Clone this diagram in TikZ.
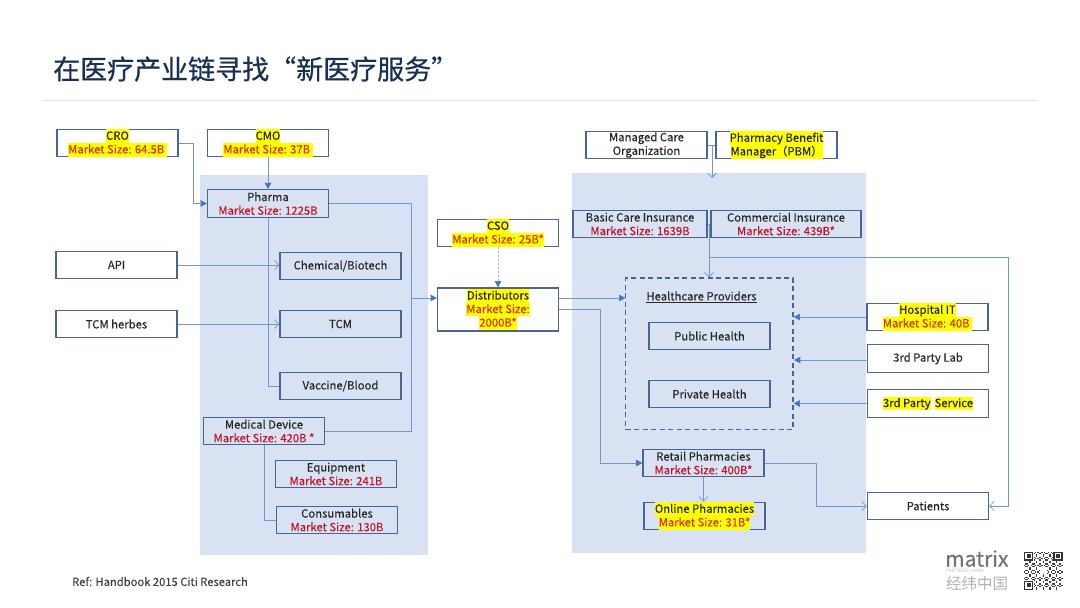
\documentclass[tikz,border=0pt]{standalone}
\usepackage{fontspec}
\setmainfont{Noto Sans CJK SC}
\newfontfamily\boxfont[FakeBold=0.15]{Noto Sans CJK SC}
\newfontfamily\titlefont[FakeBold=0.6]{Noto Sans CJK SC}
\usetikzlibrary{arrows.meta, calc, positioning}
\definecolor{bandblue}{RGB}{217,226,243}
\definecolor{boxblue}{RGB}{76,100,146}
\definecolor{flowblue}{RGB}{116,150,208}
\definecolor{tipblue}{RGB}{68,114,196}
\definecolor{titlenavy}{RGB}{24,48,84}
\definecolor{sizered}{RGB}{192,20,40}
\definecolor{markyellow}{RGB}{255,255,0}
\definecolor{markred}{RGB}{214,50,0}
\definecolor{inkgrey}{RGB}{38,38,38}
\setlength{\fboxsep}{0pt}
\newcommand{\hlt}[1]{\colorbox{markyellow}{\rule[-3.2pt]{0pt}{13.6pt}#1}}
\newcommand{\msize}[1]{\textcolor{sizered}{Market Size: #1}}
\newcommand{\hmark}[1]{\hlt{\textcolor{markred}{#1}}}
\tikzset{
    plainbox/.style={draw=boxblue, line width=1.1pt, minimum width=121pt, minimum height=27.5pt,
        inner sep=0pt, align=center, text=inkgrey, font=\boxfont\fontsize{11.3}{13.6}\selectfont},
    whitebox/.style={plainbox, fill=white},
    flow/.style={draw=flowblue, line width=0.8pt},
    solidtip/.style={flow, -{Stealth[length=6.5pt, width=6.5pt, inset=0.5pt, color=tipblue]}},
    opentip/.style={flow, -{Straight Barb[length=4.5pt, width=9pt]}},
}
\begin{document}
\begin{tikzpicture}[x=1pt, y=-1pt]
    \useasboundingbox (0,0) rectangle (1080,608);

    % Title
    \node[anchor=west, inner sep=0pt, text=titlenavy, font=\titlefont\fontsize{27}{30}\selectfont] (title) at (53,69) {在医疗产业链寻找“新医疗服务”};
    \coordinate (ruleleft) at (44,100);
    \coordinate (ruleright) at (1036,100);
    \draw[black!12, line width=1pt] (ruleleft) -- (ruleright);

    % Bands
    \fill[bandblue] (200,175) rectangle (427.5,555);
    \fill[bandblue] (572,173) rectangle (866,553);

    % Left side
    \node[whitebox] (cro) at (117.5,143) {\hlt{CRO}\\\hmark{Market Size: 64.5B }};
    \node[whitebox] (cmo) at (268,143) {\hlt{CMO}\\\hmark{Market Size: 37B }};
    \node[plainbox] (pharma) at (268,203.5) {Pharma\\\msize{1225B}};
    \node[whitebox] (api) at (116.5,265) {API};
    \node[whitebox] (herbes) at (116.5,324) {TCM herbes};
    \node[plainbox] (chemical) at (340.5,266) {Chemical/Biotech};
    \node[plainbox] (tcm) at (340.5,324) {TCM};
    \node[plainbox] (vaccine) at (340.5,386) {Vaccine/Blood};
    \node[plainbox] (device) at (264,431) {Medical Device\\\msize{420B *}};
    \node[plainbox] (equipment) at (336,474) {Equipment\\\msize{241B}};
    \node[plainbox] (consumables) at (337,520) {Consumables\\\msize{130B}};

    % Middle
    \node[whitebox] (cso) at (498,233) {\hlt{CSO}\\\hmark{Market Size: 25B*}};
    \node[whitebox, minimum height=43pt] (distributors) at (498,309.5) {\hlt{Distributors}\\\hmark{Market Size:}\\\hmark{2000B*}};

    % Right side
    \node[whitebox] (managed) at (646.5,145) {Managed Care\\Organization};
    \node[whitebox] (pbm) at (776.5,145) {\hlt{Pharmacy Benefit}\\\hlt{Manager（PBM）}};
    \node[plainbox, minimum width=134pt] (basic) at (640,224) {Basic Care Insurance\\\msize{1639B}};
    \node[plainbox, minimum width=150pt] (commercial) at (786,224) {Commercial Insurance\\\msize{439B*}};
    \node[draw=boxblue, line width=1.1pt, dash pattern=on 5pt off 3.5pt, minimum width=167.5pt, minimum height=151.5pt, inner sep=0pt] (providers) at (709.25,353.75) {};
    \node[text=inkgrey, inner sep=0pt, font=\boxfont\fontsize{11.3}{13.6}\selectfont] (providertitle) at (701.5,297) {\underline{Healthcare Providers}};
    \node[plainbox] (public) at (709.5,336) {Public Health};
    \node[plainbox] (private) at (709.5,394) {Private Health};
    \node[plainbox] (retail) at (703.5,463) {Retail Pharmacies\\\msize{400B*}};
    \node[plainbox] (online) at (704.5,516) {\hlt{Online Pharmacies}\\\hmark{Market Size: 31B*}};
    \node[whitebox] (hospital) at (927.5,317) {\hlt{Hospital IT}\\\hmark{Market Size: 40B }};
    \node[whitebox] (lab) at (928,358.5) {3rd Party Lab};
    \node[whitebox] (service) at (928,403.5) {\hlt{3rd Party}\hspace{4pt}\hlt{Service}};
    \node[whitebox] (patients) at (928,506) {Patients};

    % Free ends of the connectors
    \coordinate (pharmaturn) at (411,203.5);
    \coordinate (deviceturn) at (411,431);
    \coordinate (merge) at (411,298);
    \coordinate (providerin) at (625.5,298);
    \coordinate (retailturn) at (600,309);
    \coordinate (payerjoin) at (712,145);
    \coordinate (payerend) at (712,178);
    \coordinate (insurejoin) at (709,224);
    \coordinate (insurebranch) at (709,257);
    \coordinate (patientturn) at (1008,257);
    \coordinate (labstart) at (867.5,360);
    \coordinate (labend) at (794,360);

    % Connectors
    \draw[solidtip] (cro.east) -- ++(15,0) |- (pharma.west);
    \draw[solidtip] (cmo.south) -- (pharma.north);
    \draw[flow] (pharma.south) |- (vaccine.west);
    \draw[opentip] (api.east) -- (api.east -| chemical.west);
    \draw[opentip] (herbes.east) -- (tcm.west);
    \draw[flow] (pharma.east) -- (pharmaturn) -- (deviceturn) -- (device.east);
    \draw[solidtip] (merge) -- (merge -| distributors.west);
    \draw[flow] (device.south) |- (consumables.west);
    \draw[solidtip, dash pattern=on 2pt off 2pt, draw=flowblue!75] (cso.south) -- (distributors.north);
    \draw[solidtip] (merge -| distributors.east) -- (providerin);
    \draw[solidtip] (retailturn -| distributors.east) -- (retailturn) |- (retail.west);
    \draw[flow] (managed.east) -- (pbm.west);
    \draw[opentip] (payerjoin) -- (payerend);
    \draw[flow] (basic.east) -- (commercial.west);
    \draw[opentip] (insurejoin) -- (insurejoin |- providers.north);
    \draw[opentip] (insurebranch) -- (patientturn) |- (patients.east);
    \draw[solidtip] (hospital.west) -- (hospital.west -| providers.east);
    \draw[solidtip] (labstart) -- (labend);
    \draw[solidtip] (service.west) -- (service.west -| providers.east);
    \draw[opentip] (retail.east) -- ++(52,0) |- (patients.west);
    \draw[opentip] (retail.south) -- (retail.south |- online.north);

    % Footer
    \node[anchor=west, inner sep=0pt, text=black!75, font=\boxfont\fontsize{11.2}{13}\selectfont] (reference) at (72,581.5) {Ref: Handbook 2015 Citi Research};
    \node[anchor=west, inner sep=0pt, text=black!55, font=\titlefont\fontsize{21}{24}\selectfont] (matrix) at (945,558.5) {matrix};
    \node[anchor=west, inner sep=0pt, text=black!25, font=\fontsize{4.6}{5}\selectfont] (partners) at (946,571) {PARTNERS CHINA};
    \node[anchor=west, inner sep=0pt, text=black!30, font=\fontsize{15.5}{17}\selectfont] (jingwei) at (946,584) {经纬中国};

    % QR code
    \begin{scope}[shift={(1024,551.5)}, x=1.33pt, y=-1.33pt]
        \foreach \i in {0,...,28} {
            \foreach \j in {0,...,28} {
                \pgfmathtruncatemacro{\cell}{mod(3*\i*\i+7*\j*\j+5*\i*\j+\i,5)}
                \ifnum\cell<2 \fill[black!75] (\i,\j) rectangle ++(1,1); \fi
            }
        }
        \fill[white] (12,12) rectangle (17,17);
        \foreach \a/\b in {0/0, 22/0, 0/22} {
            \fill[white] (\a-0.5,\b-0.5) rectangle ++(8,8);
            \fill[black!80] (\a,\b) rectangle ++(7,7);
            \fill[white] (\a+1,\b+1) rectangle ++(5,5);
            \fill[black!80] (\a+2,\b+2) rectangle ++(3,3);
        }
    \end{scope}
\end{tikzpicture}
\end{document}
